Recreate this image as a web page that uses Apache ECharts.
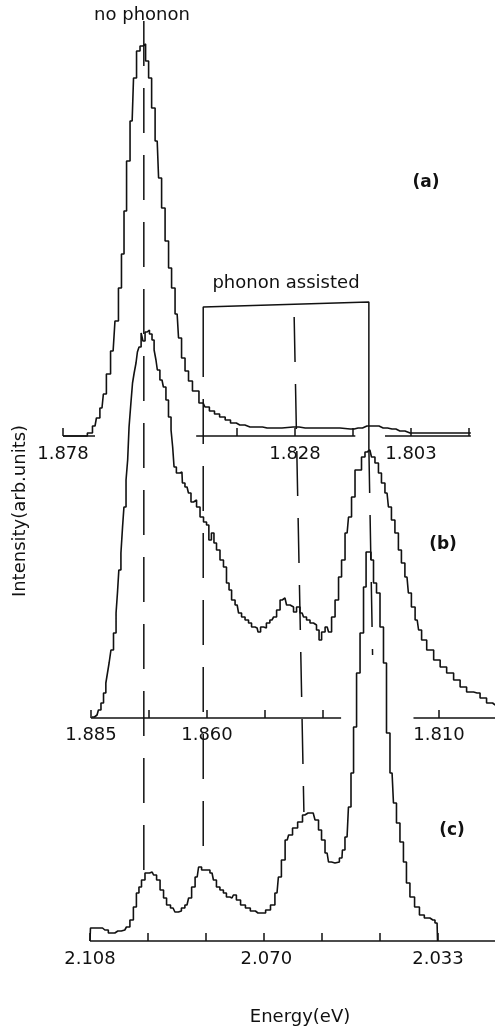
<!DOCTYPE html>
<html><head><meta charset="utf-8">
<script src="https://cdn.jsdelivr.net/npm/echarts@6/dist/echarts.min.js"></script>
<style>html,body{margin:0;padding:0;background:#fff}#c{width:495px;height:1032px}</style>
</head><body><div id="c"></div>
<script>
// ---- Spectrum (a) ----
const aEnergy = [1.8780,1.8733,1.8722,1.8711,1.8705,1.8696,1.8690,1.8683,1.8672,1.8664,1.8657,1.8651,1.8646,1.8640,1.8631,1.8625,1.8618,1.8610,1.8605,1.8599,1.8592,1.8586,1.8577,1.8571,1.8564,1.8556,1.8549,1.8543,1.8534,1.8528,1.8521,1.8513,1.8506,1.8496,1.8478,1.8470,1.8459,1.8448,1.8437,1.8424,1.8414,1.8399,1.8377,1.8360,1.8340,1.8332,1.8284,1.8258,1.8233,1.8205,1.8161,1.8144,1.8125,1.8108,1.8090,1.8071,1.8054,1.8032,1.7989,1.7901];
const aIntensity = [0,0,3,10,18,28,42,62,85,115,148,182,225,275,315,358,385,390,392,375,358,328,295,258,228,195,168,148,122,98,78,65,55,45,33,29,25,22,19,16,13,11,9,9,8,8,9,8,8,8,7,8,10,10,8,7,5,3,3,3];
const aAxisSegments = [[1.8780,1.8711],[1.8493,1.8150],[1.8086,1.7901]];
const aTicks = [1.878,1.8405,1.828,1.8155,1.803,1.7905];
const aLabels = [1.878,1.828,1.803];

// ---- Spectrum (b) ----
const bEnergy = [1.8848,1.8837,1.8831,1.8826,1.8820,1.8816,1.8813,1.8809,1.8805,1.8798,1.8794,1.8792,1.8788,1.8783,1.8781,1.8777,1.8772,1.8770,1.8766,1.8762,1.8759,1.8755,1.8751,1.8749,1.8744,1.8740,1.8736,1.8731,1.8727,1.8721,1.8716,1.8712,1.8708,1.8706,1.8697,1.8691,1.8686,1.8680,1.8675,1.8673,1.8669,1.8663,1.8654,1.8652,1.8643,1.8637,1.8632,1.8626,1.8619,1.8611,1.8604,1.8598,1.8594,1.8587,1.8583,1.8576,1.8568,1.8561,1.8555,1.8550,1.8544,1.8535,1.8529,1.8522,1.8514,1.8507,1.8501,1.8492,1.8488,1.8481,1.8475,1.8469,1.8460,1.8453,1.8447,1.8438,1.8432,1.8425,1.8417,1.8410,1.8404,1.8395,1.8389,1.8382,1.8374,1.8367,1.8361,1.8356,1.8350,1.8341,1.8335,1.8328,1.8320,1.8313,1.8307,1.8298,1.8292,1.8285,1.8277,1.8270,1.8264,1.8255,1.8249,1.8242,1.8234,1.8227,1.8221,1.8212,1.8206,1.8199,1.8191,1.8184,1.8178,1.8169,1.8163,1.8156,1.8147,1.8141,1.8134,1.8119,1.8104,1.8091,1.8076,1.8061,1.8048,1.8033,1.8018,1.8005,1.7990,1.7979];
const bIntensity = [1,3,8,15,25,35,45,55,68,85,105,125,148,165,191,211,238,258,291,315,335,345,355,366,371,385,377,386,388,384,378,368,358,348,338,331,318,301,288,271,251,245,246,235,231,225,216,218,211,201,196,193,178,185,175,168,158,151,135,128,118,113,105,101,98,95,91,90,86,91,90,95,98,101,108,118,120,113,111,106,111,105,101,98,95,93,88,78,86,91,86,101,118,141,158,185,201,221,248,248,261,266,268,261,255,245,235,225,211,198,185,168,155,141,125,111,98,88,78,68,58,51,45,38,31,26,25,20,15,13];
const bAxisSegments = [[1.8850,1.8311],[1.8155,1.7979]];
const bTicks = [1.885,1.8725,1.860,1.8475,1.835,1.810];
const bLabels = [1.885,1.860,1.810];

// ---- Spectrum (c) ----
const cEnergy = [2.1080,2.1078,2.1069,2.1058,2.1048,2.1033,2.1020,2.1005,2.0998,2.0990,2.0983,2.0977,2.0972,2.0966,2.0957,2.0946,2.0940,2.0933,2.0925,2.0918,2.0912,2.0901,2.0893,2.0886,2.0880,2.0871,2.0864,2.0858,2.0849,2.0843,2.0836,2.0826,2.0817,2.0811,2.0804,2.0796,2.0789,2.0783,2.0774,2.0768,2.0761,2.0750,2.0740,2.0729,2.0718,2.0707,2.0696,2.0686,2.0677,2.0671,2.0664,2.0655,2.0649,2.0638,2.0627,2.0617,2.0610,2.0599,2.0591,2.0584,2.0578,2.0569,2.0563,2.0556,2.0548,2.0537,2.0535,2.0526,2.0520,2.0515,2.0509,2.0502,2.0494,2.0487,2.0483,2.0477,2.0472,2.0466,2.0459,2.0451,2.0444,2.0438,2.0429,2.0423,2.0416,2.0408,2.0401,2.0395,2.0386,2.0375,2.0365,2.0354,2.0341,2.0332,2.0330];
const cIntensity = [0,13,13,13,11,8,10,11,14,21,34,48,54,61,68,69,66,61,51,43,36,33,29,30,33,36,43,54,64,74,71,71,68,61,54,51,48,44,43,46,41,36,33,30,28,28,31,36,48,64,81,101,106,113,119,126,128,128,121,111,101,88,79,78,79,83,91,104,134,168,214,268,308,354,389,389,381,358,348,314,278,208,168,138,118,99,79,58,44,34,26,23,21,18,0];
const cAxisSegments = [[2.1080,2.0207]];
const cTicks = [2.108,2.0955,2.083,2.0705,2.058,2.0455,2.033];
const cLabels = [2.108,2.070,2.033];

// ---- Guide lines (energy on scale (c), vertical extent in figure units) ----
const guideEnergyTop    = [2.0964, 2.0836, 2.0640, 2.0479];
const guideEnergyBottom = [2.0964, 2.0836, 2.0619, 2.0471];
const guideYTop    = [21, 332, 317, 448];
const guideYBottom = [877, 862, 812, 655];
const bracketEnergy = [2.0836, 2.0836, 2.0479, 2.0479];
const bracketY      = [332, 307, 302, 448];

const INK = '#111';
const FONT = 'DejaVu Sans';
const pairs = (xs, ys) => xs.map((x, i) => [x, ys[i]]);
const chart = echarts.init(document.getElementById('c'), null, {renderer:'canvas'});

const panels = [
  {energy:aEnergy, inten:aIntensity, seg:aAxisSegments, ticks:aTicks, labels:aLabels, top:1,   bottom:596, min:1.784897, max:1.891578, margin:9},
  {energy:bEnergy, inten:bIntensity, seg:bAxisSegments, ticks:bTicks, labels:bLabels, top:283, bottom:314, min:1.797931, max:1.904612, margin:8},
  {energy:cEnergy, inten:cIntensity, seg:cAxisSegments, ticks:cTicks, labels:cLabels, top:506, bottom:91,  min:2.020716, max:2.127397, margin:9}
];

const grid = [], xAxis = [], yAxis = [], series = [];
panels.forEach((p, i) => {
  grid.push({left:0, right:0, top:p.top, bottom:p.bottom, containLabel:false});
  xAxis.push({
    gridIndex:i, type:'value', inverse:true, min:p.min, max:p.max,
    axisLine:{show:false}, splitLine:{show:false},
    axisTick:{show:true, inside:true, length:8, customValues:p.ticks, lineStyle:{color:INK, width:1.5}},
    axisLabel:{show:true, customValues:p.labels, margin:p.margin, color:INK, fontFamily:FONT, fontSize:18,
               formatter:v => Number(v).toFixed(3)}
  });
  yAxis.push({gridIndex:i, type:'value', min:0, max:435, show:false});
  series.push({
    type:'line', xAxisIndex:i, yAxisIndex:i, data:pairs(p.energy, p.inten),
    step:'middle', symbol:'none', clip:false, silent:true,
    lineStyle:{color:INK, width:1.6}
  });
  p.seg.forEach(s => series.push({
    type:'line', xAxisIndex:i, yAxisIndex:i, data:[[s[0],0],[s[1],0]],
    symbol:'none', clip:false, silent:true, lineStyle:{color:INK, width:1.6}
  }));
});

// overlay for guide lines
grid.push({left:0, right:0, top:0, bottom:0});
xAxis.push({gridIndex:3, type:'value', inverse:true, min:2.020716, max:2.127397, show:false});
yAxis.push({gridIndex:3, type:'value', inverse:true, min:0, max:1032, show:false});
guideEnergyTop.forEach((e, i) => series.push({
  type:'line', xAxisIndex:3, yAxisIndex:3,
  data:[[e, guideYTop[i]], [guideEnergyBottom[i], guideYBottom[i]]],
  symbol:'none', clip:false, silent:true,
  lineStyle:{color:INK, width:1.5, type:[45,22]}
}));
series.push({
  type:'line', xAxisIndex:3, yAxisIndex:3, data:pairs(bracketEnergy, bracketY),
  symbol:'none', clip:false, silent:true, lineStyle:{color:INK, width:1.5}
});

function txt(text, x, y, opts) {
  opts = opts || {};
  return {
    type:'text', x:x, y:y, rotation:opts.rotation || 0, silent:true,
    style:{text:text, fill:INK, fontFamily:FONT, fontSize:opts.size || 18, fontWeight:opts.weight || 'normal',
           align:'center', verticalAlign:'middle', textAlign:'center', textVerticalAlign:'middle'}
  };
}

chart.setOption({
  animation:false,
  backgroundColor:'#fff',
  grid, xAxis, yAxis, series,
  graphic:[
    txt('no phonon', 142, 15),
    txt('phonon assisted', 286, 283),
    txt('(a)', 426, 183, {weight:'bold', size:17}),
    txt('(b)', 443, 545, {weight:'bold', size:17}),
    txt('(c)', 452, 831, {weight:'bold', size:17}),
    txt('Intensity(arb.units)', 20, 511, {rotation:Math.PI/2}),
    txt('Energy(eV)', 300, 1017)
  ]
});
</script>
</body></html>
